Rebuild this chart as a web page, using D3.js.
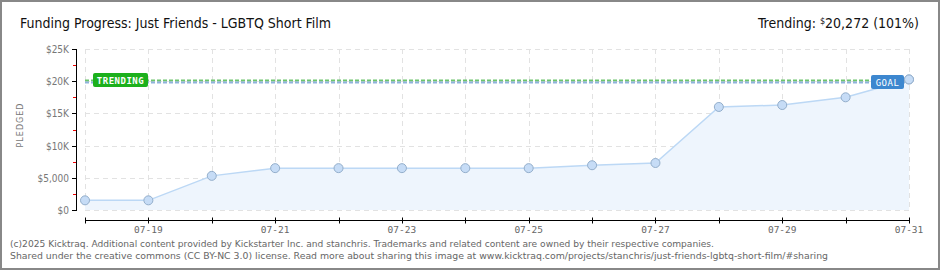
<!DOCTYPE html>
<html><head><meta charset="utf-8">
<script src="https://cdn.jsdelivr.net/npm/d3@7"></script>
<style>body{margin:0;background:#fff}svg{display:block}</style>
</head><body>
<script>
const dates = ["2025-07-18","2025-07-19","2025-07-20","2025-07-21","2025-07-22","2025-07-23","2025-07-24","2025-07-25","2025-07-26","2025-07-27","2025-07-28","2025-07-29","2025-07-30","2025-07-31"];
const pledged = [1500,1500,5300,6500,6500,6500,6500,6500,6950,7300,16000,16300,17500,20272];
const goal = 20000;
const yTicks = [0,5000,10000,15000,20000,25000];
const yTickLabels = ["$0","$5,000","$10K","$15K","$20K","$25K"];
const titleText = "Funding Progress: Just Friends - LGBTQ Short Film";
const trendText = "20,272 (101%)";

const W=940,H=270;
const svg=d3.select("body").append("svg").attr("width",W).attr("height",H);
svg.append("rect").attr("x",1).attr("y",1).attr("width",W-2).attr("height",H-2).attr("fill","#fff").attr("stroke","#888").attr("stroke-width",2);

const parse=d3.timeParse("%Y-%m-%d");
const data=dates.map((d,i)=>({date:parse(d),v:pledged[i]}));
const x=d3.scaleTime().domain([data[0].date,data[data.length-1].date]).range([85,909]);
const y=d3.scaleLinear().domain([0,25000]).range([210,49]);

// grid
const days=d3.timeDay.range(data[0].date,d3.timeDay.offset(data[data.length-1].date,1));
svg.append("g").selectAll("line").data(days).join("line")
  .attr("x1",d=>Math.round(x(d))+0.5).attr("x2",d=>Math.round(x(d))+0.5).attr("y1",49).attr("y2",210)
  .attr("stroke","#e2e2e2").attr("stroke-dasharray","5,4");
svg.append("g").selectAll("line").data(yTicks).join("line")
  .attr("x1",85).attr("x2",909).attr("y1",d=>Math.round(y(d))+0.5).attr("y2",d=>Math.round(y(d))+0.5)
  .attr("stroke","#e2e2e2").attr("stroke-dasharray","5,4");

// watermark
svg.append("text").attr("x",855).attr("y",205).attr("text-anchor","middle").attr("font-family","DejaVu Serif").attr("font-style","italic").attr("font-size",70).attr("fill","#e4eefa").attr("opacity",0.6).text("K");

// area + line
const area=d3.area().x(d=>x(d.date)).y0(y(0)).y1(d=>y(d.v));
svg.append("path").datum(data).attr("d",area).attr("fill","#eef5fd");
const line=d3.line().x(d=>x(d.date)).y(d=>y(d.v));
svg.append("path").datum(data).attr("d",line).attr("fill","none").attr("stroke","#bcd8f5").attr("stroke-width",1.5);

// goal line
const gy=Math.round(y(goal));
svg.append("line").attr("x1",85).attr("x2",906).attr("y1",gy-0.5).attr("y2",gy-0.5).attr("stroke","#6cc46c").attr("stroke-width",2).attr("stroke-dasharray","4,2");
svg.append("line").attr("x1",85).attr("x2",906).attr("y1",gy+1.5).attr("y2",gy+1.5).attr("stroke","#8fb3dc").attr("stroke-width",2).attr("stroke-dasharray","4,2");

// points
svg.append("g").selectAll("circle").data(data).join("circle")
  .attr("cx",d=>x(d.date)).attr("cy",d=>y(d.v)).attr("r",4.5)
  .attr("fill","#c6dcf6").attr("stroke","#93aecb").attr("stroke-width",1);

// trending label
const tg=svg.append("g");
tg.append("rect").attr("x",93).attr("y",gy-8).attr("width",55).attr("height",14).attr("rx",2).attr("fill","#1cb01c");
tg.append("text").attr("x",120.5).attr("y",gy+3).attr("text-anchor","middle").attr("font-family","DejaVu Sans Mono").attr("font-weight","bold").attr("font-size",9).attr("fill","#fff").attr("letter-spacing",0.5).text("TRENDING");
// goal label
const gg=svg.append("g");
gg.append("rect").attr("x",871).attr("y",gy-6).attr("width",33).attr("height",14).attr("rx",2).attr("fill","#3d87cf");
gg.append("text").attr("x",887.5).attr("y",gy+5).attr("text-anchor","middle").attr("font-family","DejaVu Sans Mono").attr("font-size",9).attr("fill","#fff").attr("letter-spacing",0.5).text("GOAL");
svg.append("circle").attr("cx",x(data[data.length-1].date)).attr("cy",y(pledged[pledged.length-1])).attr("r",4.5).attr("fill","#c6dcf6").attr("stroke","#93aecb");

// y axis
svg.append("line").attr("x1",76.5).attr("x2",76.5).attr("y1",49).attr("y2",211).attr("stroke","#000");
const minor=d3.range(2500,25000,5000);
svg.append("g").selectAll("line").data(minor).join("line").attr("x1",73).attr("x2",76).attr("y1",d=>Math.round(y(d))+0.5).attr("y2",d=>Math.round(y(d))+0.5).attr("stroke","#e00");
svg.append("g").selectAll("line").data(yTicks).join("line").attr("x1",72).attr("x2",76).attr("y1",d=>Math.round(y(d))+0.5).attr("y2",d=>Math.round(y(d))+0.5).attr("stroke","#000");
svg.append("g").selectAll("text").data(yTicks).join("text").attr("x",69).attr("y",d=>y(d)+4).attr("text-anchor","end")
  .attr("font-family","DejaVu Sans Condensed").attr("font-size",10).attr("fill","#777").text((d,i)=>yTickLabels[i]);
svg.append("text").attr("transform","translate(23,125) rotate(-90)").attr("text-anchor","middle").attr("font-family","DejaVu Sans").attr("font-size",8).attr("letter-spacing",1).attr("fill","#777").text("PLEDGED");

// x axis
const xa=svg.append("g").attr("transform","translate(0,220.5)");
xa.append("line").attr("x1",85).attr("x2",909).attr("stroke","#000");
xa.selectAll("line.t").data(days).join("line").attr("class","t").attr("x1",d=>Math.round(x(d))+0.5).attr("x2",d=>Math.round(x(d))+0.5).attr("y1",-3).attr("y2",3).attr("stroke","#000");
xa.selectAll("text").data(days.filter(d=>d.getDate()%2===1)).join("text").attr("x",d=>x(d)).attr("y",12).attr("text-anchor","middle")
  .attr("font-family","DejaVu Sans Mono").attr("font-size",9.5).attr("fill","#666").text(d3.timeFormat("%m-%d"));

// title
svg.append("text").attr("x",20).attr("y",28).attr("font-family","DejaVu Sans Condensed").attr("font-size",14).attr("fill","#111").text(titleText);
const tt=svg.append("text").attr("x",919).attr("y",28).attr("text-anchor","end").attr("font-family","DejaVu Sans Condensed").attr("font-size",14).attr("fill","#111");
tt.append("tspan").text("Trending: ");
tt.append("tspan").attr("font-size",9).attr("dy",-4).text("$");
tt.append("tspan").attr("dy",4).text(trendText);

// footer
const ft=["(c)2025 Kicktraq. Additional content provided by Kickstarter Inc. and stanchris. Trademarks and related content are owned by their respective companies.",
"Shared under the creative commons (CC BY-NC 3.0) license. Read more about sharing this image at www.kicktraq.com/projects/stanchris/just-friends-lgbtq-short-film/#sharing"];
svg.append("text").attr("x",10).attr("y",247).attr("font-family","DejaVu Sans").attr("font-size",9).attr("fill","#666").attr("textLength",704).attr("lengthAdjust","spacingAndGlyphs").text(ft[0]);
svg.append("text").attr("x",10).attr("y",259).attr("font-family","DejaVu Sans").attr("font-size",9).attr("fill","#666").attr("textLength",818).attr("lengthAdjust","spacingAndGlyphs").text(ft[1]);
</script>
</body></html>
